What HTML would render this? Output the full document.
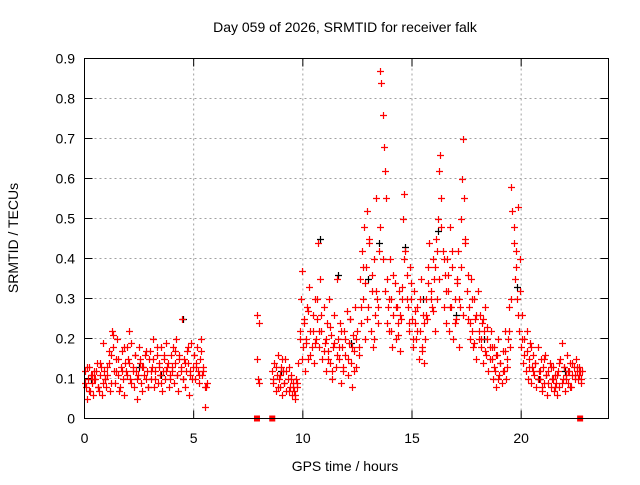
<!DOCTYPE html>
<html><head><meta charset="utf-8"><style>
body{margin:0;background:#fff}
svg text{font-family:"Liberation Sans",sans-serif;font-size:14px;fill:#000}
</style></head><body>
<svg id="chart" width="640" height="480" xmlns="http://www.w3.org/2000/svg">
<rect width="640" height="480" fill="#fff"/>
<text x="345" y="32" text-anchor="middle">Day 059 of 2026, SRMTID for receiver falk</text>
<text transform="translate(18,238) rotate(-90)" text-anchor="middle">SRMTID / TECUs</text>
<text x="345" y="471" text-anchor="middle">GPS time / hours</text>
<g id="grid"></g>
<g id="ticks"></g>
<g id="marks"></g>
<rect x="84.5" y="58.5" width="524" height="360" fill="none" stroke="#000" stroke-width="1"/>
</svg>
<script>
const xTicks=[0,5,10,15,20];
const yTicks=[0,0.1,0.2,0.3,0.4,0.5,0.6,0.7,0.8,0.9];
const yTickLabels=["0","0.1","0.2","0.3","0.4","0.5","0.6","0.7","0.8","0.9"];
const seg1Start=0, seg1Step=0.05;
const seg1Vals=[.12,.08,.05,.10,.13,.07,.11,.09,.06,.12,.10,.14,.08,.07,.11,.13,.06,.09,.12,.10,
.08,.11,.14,.07,.16,.22,.18,.12,.09,.15,.20,.11,.07,.13,.17,.10,.06,.14,.12,.18,
.15,.22,.10,.19,.13,.08,.16,.12,.05,.11,.18,.14,.09,.07,.13,.16,.10,.12,.08,.15,
.17,.10,.13,.20,.08,.12,.16,.09,.14,.11,.18,.07,.12,.15,.10,.19,.13,.08,.11,.16,
.12,.18,.09,.14,.20,.11,.07,.16,.13,.25,.10,.15,.08,.12,.17,.14,.06,.11,.19,.13,
.16,.10,.14,.18,.12,.09,.15,.20,.11,.13,.03,.08,.09];
const seg1bStart=0.025, seg1bStep=0.1;
const seg1bVals=[.09,.13,.07,.11,.10,.12,.08,.14,.19,.10,.13,.17,.09,.21,.12,.15,.08,.12,.18,.11,.14,.09,.12,.16,.10,.15,.13,.11,.17,.08,.12,.15,.10,.18,.13,.09,.16,.12,.14,.10,.13,.17,.11,.15,.12,.10,.14,.18,.12,.10,.16,.13,.11,.17,.12,.08];
const seg2Times=[7.9,7.92,7.95,7.98,8.0];
const seg2Vals=[.26,.15,.10,.09,.24];
const seg3Start=8.6, seg3Step=0.05;
const seg3Vals=[.12,.09,.14,.07,.11,.16,.10,.08,.13,.06,.12,.09,.15,.07,.10,.13,.08,.11,.06,.09,
.07,.05,.10,.08,.14,.22,.30,.37,.18,.25,.12,.20,.28,.15,.33,.22,.18,.26,.14,.30,
.20,.25,.44,.18,.35,.22,.15,.28,.19,.12,.24,.17,.30,.14,.21,.10,.18,.26,.13,.35,
.20,.15,.24,.09,.18,.12,.22,.16,.27,.11,.19,.25,.14,.08,.21,.17,.28,.13,.22,.18,
.35,.24,.42,.30,.48,.20,.38,.52,.28,.45,.22,.32,.18,.40,.26,.55,.30,.24,.42,.87,
.84,.76,.68,.62,.55,.35,.28,.22,.40,.30,.18,.26,.34,.20,.28,.24,.32,.17,.25,.30,
.50,.56,.42,.36,.28,.22,.38,.30,.25,.18,.32,.24,.20,.28,.15,.22,.35,.18,.26,.14,
.20,.30,.25,.38,.44,.32,.28,.40,.35,.22,.45,.30,.50,.62,.66,.55,.42,.28,.36,.24,
.40,.32,.22,.48,.28,.38,.20,.30,.25,.35,.42,.18,.28,.50,.60,.70,.55,.45,.32,.25,
.28,.20,.35,.22,.18,.30,.25,.15,.32,.20,.26,.18,.24,.14,.22,.28,.16,.20,.12,.18,
.22,.15,.10,.18,.12,.08,.16,.20,.11,.14,.09,.17,.12,.22,.10,.15,.20,.28,.18,.58,
.52,.48,.35,.42,.30,.53,.22,.40,.18,.26,.14,.20,.12,.17,.10,.15,.19,.09,.13,.16,
.11,.14,.08,.18,.12,.10,.15,.07,.13,.09,.16,.11,.06,.12,.14,.08,.10,.13,.07,.11,
.09,.06,.12,.08,.15,.19,.10,.13,.07,.11,.16,.09,.12,.14,.08,.11,.13,.10,.15,.12,
.10,.13,.12,.09,.12];
const seg3bStart=8.65, seg3bStep=0.1;
const seg3bVals=[.10,.13,.08,.11,.15,.09,.12,.07,.10,.08,
.06,.09,.20,.15,.24,.19,.27,.16,.22,.19,
.30,.22,.26,.17,.20,.15,.23,.12,.19,.16,
.18,.22,.13,.20,.15,.25,.18,.12,.20,.16,
.28,.38,.34,.25,.44,.36,.20,.32,.28,.48,
.40,.32,.24,.30,.22,.36,.28,.21,.26,.33,
.40,.30,.24,.34,.20,.27,.22,.30,.17,.24,
.26,.34,.30,.27,.38,.42,.35,.48,.40,.32,
.36,.28,.42,.24,.34,.30,.38,.26,.44,.36,
.24,.30,.19,.26,.22,.20,.25,.17,.23,.15,
.18,.13,.16,.10,.14,.12,.17,.13,.22,.30,
.44,.38,.26,.32,.20,.16,.22,.13,.18,.12,
.14,.10,.12,.08,.15,.11,.09,.13,.10,.08,
.11,.14,.09,.13,.10,.12,.08,.14,.11,.13,
.11,.10];
const blackTimes=[0.3,2.5,3.5,4.5,9.0,10.8,11.6,12.2,13.0,13.5,14.7,15.5,16.2,17.0,18.3,19.8,20.8,22.0];
const blackVals=[.10,.13,.11,.25,.12,.45,.36,.19,.35,.44,.43,.30,.47,.26,.20,.33,.10,.12];
const zeroTimes=[7.9,8.6,22.7];

const X=t=>84.5+t*(524/24);
const Y=v=>418.5-v*400;
const NS="http://www.w3.org/2000/svg";
const grid=document.getElementById('grid'),ticks=document.getElementById('ticks'),marks=document.getElementById('marks');
function ln(p,x1,y1,x2,y2,st,dash){const l=document.createElementNS(NS,'line');l.setAttribute('x1',x1);l.setAttribute('y1',y1);l.setAttribute('x2',x2);l.setAttribute('y2',y2);l.setAttribute('stroke',st);if(dash)l.setAttribute('stroke-dasharray',dash);p.appendChild(l);return l;}
function tx(p,x,y,s,a){const t=document.createElementNS(NS,'text');t.setAttribute('x',x);t.setAttribute('y',y);t.setAttribute('text-anchor',a);t.textContent=s;p.appendChild(t);return t;}
xTicks.forEach(v=>{const x=X(v);
 if(v>0){const g=ln(grid,x,58.5,x,418.5,'#a0a0a0','2,3');
 
 }
 ln(ticks,x,418.5,x,410.5,'#000');ln(ticks,x,58.5,x,66.5,'#000');
 const t=tx(ticks,x,443,String(v),'middle');
 
 });
yTicks.forEach((v,i)=>{const y=Y(v);
 if(v>0){const g=ln(grid,84.5,y,608.5,y,'#a0a0a0','2,3');
 
 }
 ln(ticks,84.5,y,92.5,y,'#000');ln(ticks,608.5,y,600.5,y,'#000');
 const t=tx(ticks,75,y+5,yTickLabels[i],'end');
 
 });
function plus(t,v,c){const x=Math.round(X(t))+0.5,y=Math.round(Y(v))+0.5;
 const p=document.createElementNS(NS,'path');
 p.setAttribute('d',`M${x-3.5},${y}H${x+3.5}M${x},${y-3.5}V${y+3.5}`);
 p.setAttribute('stroke',c);p.setAttribute('stroke-width','1.2');
 
 
 marks.appendChild(p);}
blackTimes.forEach((t,i)=>plus(t,blackVals[i],'#000'));
seg1Vals.forEach((v,i)=>plus(seg1Start+i*seg1Step,v,'#f00'));
seg1bVals.forEach((v,i)=>plus(seg1bStart+i*seg1bStep,v,'#f00'));
seg2Vals.forEach((v,i)=>plus(seg2Times[i],v,'#f00'));
seg3Vals.forEach((v,i)=>plus(seg3Start+i*seg3Step,v,'#f00'));
seg3bVals.forEach((v,i)=>plus(seg3bStart+i*seg3bStep,v,'#f00'));
zeroTimes.forEach(t=>{const r=document.createElementNS(NS,'rect');
 r.setAttribute('x',X(t)-3);r.setAttribute('y',Y(0)-3);r.setAttribute('width',6);r.setAttribute('height',6);r.setAttribute('fill','#f00');
 
 
 marks.appendChild(r);});
</script>
</body></html>
